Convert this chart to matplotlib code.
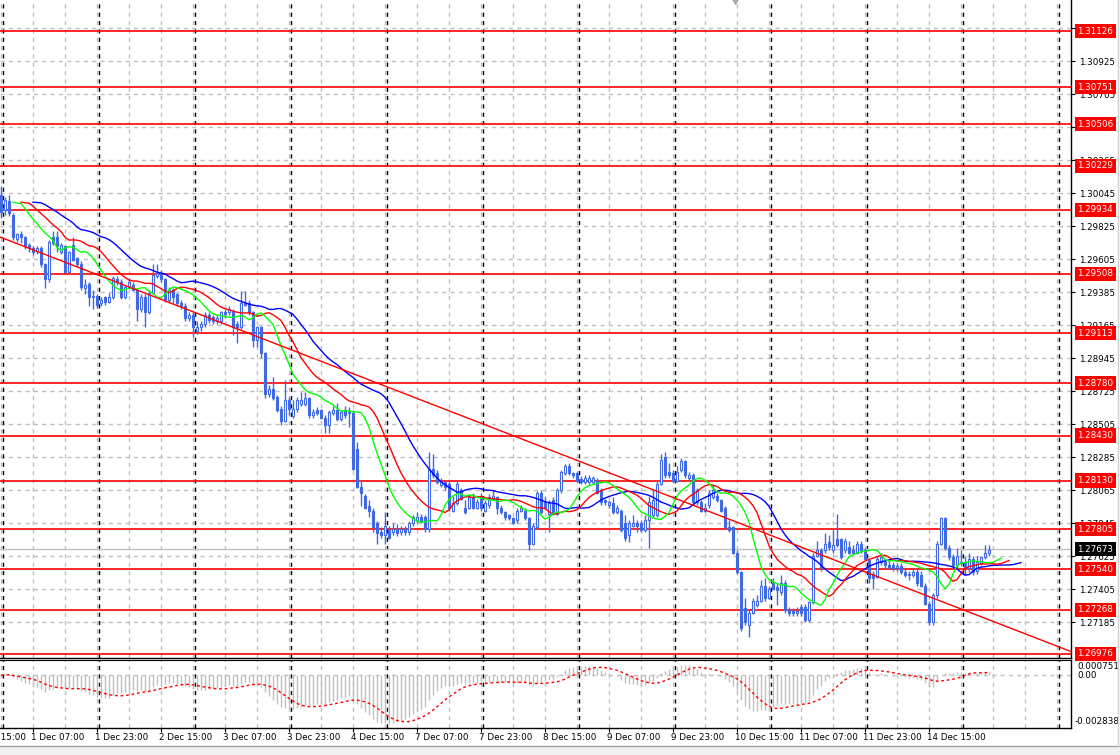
import numpy as np
import pandas as pd
import matplotlib
matplotlib.use("Agg")
import matplotlib.pyplot as plt
from matplotlib.transforms import blended_transform_factory as btf

# ---------------- data ----------------
first_bar = -1   # bar index of first candle (1 Dec 00:00 = bar 0, H1 bars, no weekend bars)

opens = [
    1.3003, 1.2993, 1.2999, 1.2990, 1.2974, 1.2977, 1.2975, 1.2970, 1.2968, 1.2966, 1.2968, 1.2957,
    1.2947, 1.2975, 1.2975, 1.2965, 1.2969, 1.2952, 1.2970, 1.2961, 1.2957, 1.2941, 1.2944, 1.2935,
    1.2936, 1.2931, 1.2935, 1.2932, 1.2935, 1.2947, 1.2945, 1.2935, 1.2942, 1.2943, 1.2940, 1.2927,
    1.2935, 1.2925, 1.2938, 1.2949, 1.2951, 1.2947, 1.2933, 1.2940, 1.2937, 1.2931, 1.2929, 1.2921,
    1.2923, 1.2913, 1.2915, 1.2917, 1.2923, 1.2922, 1.2919, 1.2919, 1.2925, 1.2925, 1.2925, 1.2917,
    1.2915, 1.2931, 1.2931, 1.2925, 1.2907, 1.2915, 1.2898, 1.2871, 1.2874, 1.2869, 1.2861, 1.2853,
    1.2867, 1.2856, 1.2861, 1.2864, 1.2864, 1.2868, 1.2857, 1.2860, 1.2860, 1.2855, 1.2850, 1.2858,
    1.2860, 1.2854, 1.2860, 1.2858, 1.2858, 1.2834, 1.2809, 1.2803, 1.2796, 1.2793, 1.2785, 1.2779,
    1.2777, 1.2780, 1.2779, 1.2781, 1.2779, 1.2781, 1.2779, 1.2785, 1.2787, 1.2789, 1.2789, 1.2781,
    1.2821, 1.2818, 1.2810, 1.2812, 1.2811, 1.2793, 1.2798, 1.2807, 1.2795, 1.2795, 1.2802, 1.2795,
    1.2803, 1.2793, 1.2797, 1.2801, 1.2802, 1.2795, 1.2792, 1.2790, 1.2788, 1.2787, 1.2793, 1.2793,
    1.2788, 1.2771, 1.2782, 1.2805, 1.2799, 1.2791, 1.2800, 1.2791, 1.2807, 1.2818, 1.2823, 1.2818,
    1.2818, 1.2814, 1.2812, 1.2812, 1.2812, 1.2813, 1.2807, 1.2800, 1.2797, 1.2798, 1.2792, 1.2793,
    1.2785, 1.2777, 1.2783, 1.2785, 1.2785, 1.2780, 1.2787, 1.2790, 1.2790, 1.2811, 1.2829, 1.2819,
    1.2818, 1.2813, 1.2820, 1.2826, 1.2815, 1.2817, 1.2799, 1.2799, 1.2793, 1.2797, 1.2802, 1.2803,
    1.2800, 1.2795, 1.2782, 1.2782, 1.2765, 1.2752, 1.2728, 1.2717, 1.2725, 1.2730, 1.2733, 1.2743,
    1.2735, 1.2745, 1.2742, 1.2739, 1.2745, 1.2727, 1.2726, 1.2725, 1.2729, 1.2729, 1.2720, 1.2732,
    1.2763, 1.2767, 1.2767, 1.2772, 1.2767, 1.2774, 1.2774, 1.2767, 1.2769, 1.2767, 1.2765, 1.2771,
    1.2767, 1.2760, 1.2751, 1.2749, 1.2759, 1.2759, 1.2757, 1.2757, 1.2755, 1.2756, 1.2752, 1.2751,
    1.2750, 1.2752, 1.2750, 1.2743, 1.2731, 1.2719, 1.2737, 1.2771, 1.2788, 1.2768, 1.2762, 1.2757,
    1.2758, 1.2759, 1.2755, 1.2761, 1.2753, 1.2758, 1.2762, 1.2765,
]
highs = [
    1.3009, 1.3002, 1.3003, 1.2991, 1.2978, 1.2979, 1.2976, 1.2971, 1.2969, 1.2969, 1.2969, 1.2958,
    1.2973, 1.2979, 1.2979, 1.2971, 1.2970, 1.2966, 1.2975, 1.2962, 1.2959, 1.2947, 1.2945, 1.2940,
    1.2937, 1.2935, 1.2936, 1.2938, 1.2949, 1.2949, 1.2947, 1.2943, 1.2948, 1.2945, 1.2941, 1.2937,
    1.2937, 1.2940, 1.2957, 1.2957, 1.2953, 1.2948, 1.2942, 1.2941, 1.2938, 1.2933, 1.2931, 1.2925,
    1.2925, 1.2919, 1.2919, 1.2925, 1.2925, 1.2923, 1.2923, 1.2926, 1.2927, 1.2929, 1.2927, 1.2919,
    1.2939, 1.2939, 1.2933, 1.2926, 1.2916, 1.2916, 1.2899, 1.2877, 1.2882, 1.2870, 1.2863, 1.2880,
    1.2869, 1.2867, 1.2869, 1.2872, 1.2872, 1.2869, 1.2861, 1.2862, 1.2861, 1.2857, 1.2860, 1.2863,
    1.2865, 1.2860, 1.2863, 1.2862, 1.2860, 1.2839, 1.2813, 1.2804, 1.2800, 1.2795, 1.2786, 1.2782,
    1.2792, 1.2783, 1.2785, 1.2784, 1.2783, 1.2783, 1.2786, 1.2790, 1.2792, 1.2791, 1.2790, 1.2832,
    1.2831, 1.2820, 1.2815, 1.2813, 1.2813, 1.2803, 1.2813, 1.2808, 1.2800, 1.2804, 1.2805, 1.2801,
    1.2805, 1.2800, 1.2804, 1.2807, 1.2803, 1.2797, 1.2793, 1.2791, 1.2789, 1.2795, 1.2797, 1.2795,
    1.2789, 1.2785, 1.2806, 1.2807, 1.2802, 1.2800, 1.2802, 1.2808, 1.2820, 1.2824, 1.2825, 1.2819,
    1.2819, 1.2816, 1.2817, 1.2817, 1.2816, 1.2815, 1.2808, 1.2801, 1.2800, 1.2802, 1.2797, 1.2794,
    1.2790, 1.2787, 1.2790, 1.2787, 1.2787, 1.2790, 1.2803, 1.2807, 1.2813, 1.2831, 1.2832, 1.2825,
    1.2820, 1.2823, 1.2828, 1.2827, 1.2819, 1.2818, 1.2808, 1.2800, 1.2798, 1.2807, 1.2810, 1.2805,
    1.2801, 1.2796, 1.2787, 1.2783, 1.2767, 1.2753, 1.2735, 1.2727, 1.2735, 1.2737, 1.2747, 1.2748,
    1.2743, 1.2748, 1.2745, 1.2750, 1.2747, 1.2729, 1.2728, 1.2729, 1.2731, 1.2731, 1.2733, 1.2765,
    1.2773, 1.2768, 1.2778, 1.2777, 1.2780, 1.2791, 1.2775, 1.2775, 1.2773, 1.2770, 1.2773, 1.2773,
    1.2768, 1.2761, 1.2753, 1.2763, 1.2765, 1.2761, 1.2760, 1.2759, 1.2758, 1.2758, 1.2754, 1.2753,
    1.2755, 1.2755, 1.2753, 1.2745, 1.2733, 1.2738, 1.2773, 1.2789, 1.2789, 1.2770, 1.2764, 1.2768,
    1.2767, 1.2763, 1.2765, 1.2763, 1.2763, 1.2763, 1.2770, 1.2770,
]
lows = [
    1.2988, 1.2990, 1.2989, 1.2973, 1.2972, 1.2971, 1.2967, 1.2965, 1.2963, 1.2964, 1.2955, 1.2941,
    1.2945, 1.2970, 1.2965, 1.2964, 1.2951, 1.2951, 1.2959, 1.2955, 1.2940, 1.2937, 1.2929, 1.2927,
    1.2928, 1.2929, 1.2930, 1.2931, 1.2934, 1.2943, 1.2934, 1.2934, 1.2941, 1.2939, 1.2919, 1.2925,
    1.2915, 1.2924, 1.2937, 1.2948, 1.2945, 1.2932, 1.2931, 1.2931, 1.2929, 1.2927, 1.2919, 1.2919,
    1.2909, 1.2911, 1.2913, 1.2915, 1.2918, 1.2917, 1.2917, 1.2917, 1.2921, 1.2923, 1.2910, 1.2905,
    1.2914, 1.2929, 1.2923, 1.2902, 1.2902, 1.2895, 1.2868, 1.2869, 1.2867, 1.2859, 1.2850, 1.2852,
    1.2857, 1.2855, 1.2859, 1.2863, 1.2863, 1.2855, 1.2855, 1.2857, 1.2854, 1.2845, 1.2845, 1.2857,
    1.2853, 1.2853, 1.2855, 1.2849, 1.2820, 1.2808, 1.2796, 1.2794, 1.2789, 1.2779, 1.2771, 1.2775,
    1.2771, 1.2774, 1.2777, 1.2776, 1.2777, 1.2777, 1.2777, 1.2783, 1.2785, 1.2785, 1.2779, 1.2779,
    1.2815, 1.2811, 1.2809, 1.2807, 1.2793, 1.2792, 1.2797, 1.2800, 1.2791, 1.2794, 1.2794, 1.2794,
    1.2793, 1.2792, 1.2795, 1.2800, 1.2791, 1.2791, 1.2787, 1.2787, 1.2784, 1.2785, 1.2792, 1.2787,
    1.2767, 1.2770, 1.2781, 1.2791, 1.2794, 1.2779, 1.2790, 1.2790, 1.2805, 1.2817, 1.2817, 1.2815,
    1.2812, 1.2811, 1.2811, 1.2811, 1.2811, 1.2804, 1.2797, 1.2797, 1.2795, 1.2791, 1.2791, 1.2779,
    1.2773, 1.2772, 1.2782, 1.2779, 1.2779, 1.2779, 1.2768, 1.2789, 1.2789, 1.2810, 1.2815, 1.2815,
    1.2812, 1.2812, 1.2819, 1.2815, 1.2813, 1.2797, 1.2797, 1.2792, 1.2792, 1.2795, 1.2801, 1.2799,
    1.2792, 1.2781, 1.2779, 1.2764, 1.2751, 1.2713, 1.2717, 1.2709, 1.2724, 1.2729, 1.2732, 1.2733,
    1.2734, 1.2740, 1.2730, 1.2737, 1.2725, 1.2723, 1.2723, 1.2723, 1.2723, 1.2719, 1.2719, 1.2731,
    1.2762, 1.2753, 1.2765, 1.2767, 1.2765, 1.2769, 1.2761, 1.2765, 1.2764, 1.2764, 1.2764, 1.2765,
    1.2760, 1.2745, 1.2741, 1.2748, 1.2757, 1.2755, 1.2754, 1.2753, 1.2753, 1.2751, 1.2749, 1.2747,
    1.2749, 1.2743, 1.2742, 1.2730, 1.2717, 1.2717, 1.2735, 1.2770, 1.2767, 1.2760, 1.2755, 1.2755,
    1.2757, 1.2750, 1.2752, 1.2750, 1.2751, 1.2757, 1.2761, 1.2763,
]
closes = [
    1.2992, 1.3000, 1.2991, 1.2975, 1.2977, 1.2975, 1.2969, 1.2968, 1.2965, 1.2968, 1.2957, 1.2947,
    1.2972, 1.2971, 1.2969, 1.2970, 1.2952, 1.2965, 1.2960, 1.2957, 1.2942, 1.2943, 1.2935, 1.2936,
    1.2930, 1.2933, 1.2932, 1.2935, 1.2948, 1.2945, 1.2935, 1.2942, 1.2945, 1.2940, 1.2927, 1.2935,
    1.2925, 1.2938, 1.2950, 1.2951, 1.2947, 1.2933, 1.2940, 1.2935, 1.2931, 1.2929, 1.2921, 1.2923,
    1.2915, 1.2915, 1.2917, 1.2923, 1.2920, 1.2919, 1.2921, 1.2925, 1.2924, 1.2927, 1.2915, 1.2915,
    1.2931, 1.2930, 1.2925, 1.2907, 1.2915, 1.2898, 1.2871, 1.2874, 1.2868, 1.2860, 1.2853, 1.2867,
    1.2861, 1.2861, 1.2867, 1.2867, 1.2868, 1.2857, 1.2859, 1.2858, 1.2855, 1.2850, 1.2859, 1.2860,
    1.2854, 1.2859, 1.2857, 1.2859, 1.2821, 1.2809, 1.2805, 1.2795, 1.2793, 1.2782, 1.2778, 1.2777,
    1.2783, 1.2775, 1.2781, 1.2778, 1.2781, 1.2779, 1.2785, 1.2789, 1.2789, 1.2786, 1.2781, 1.2821,
    1.2817, 1.2812, 1.2812, 1.2809, 1.2795, 1.2798, 1.2811, 1.2801, 1.2792, 1.2802, 1.2795, 1.2799,
    1.2795, 1.2798, 1.2802, 1.2803, 1.2795, 1.2792, 1.2789, 1.2788, 1.2785, 1.2793, 1.2795, 1.2788,
    1.2771, 1.2783, 1.2805, 1.2792, 1.2795, 1.2798, 1.2791, 1.2807, 1.2819, 1.2823, 1.2818, 1.2817,
    1.2813, 1.2812, 1.2815, 1.2815, 1.2815, 1.2805, 1.2799, 1.2799, 1.2799, 1.2792, 1.2795, 1.2780,
    1.2775, 1.2785, 1.2785, 1.2783, 1.2780, 1.2787, 1.2799, 1.2800, 1.2811, 1.2827, 1.2817, 1.2817,
    1.2813, 1.2819, 1.2826, 1.2817, 1.2817, 1.2799, 1.2807, 1.2793, 1.2795, 1.2805, 1.2807, 1.2800,
    1.2793, 1.2782, 1.2780, 1.2765, 1.2752, 1.2715, 1.2719, 1.2725, 1.2733, 1.2733, 1.2743, 1.2735,
    1.2741, 1.2741, 1.2740, 1.2745, 1.2727, 1.2725, 1.2725, 1.2726, 1.2725, 1.2720, 1.2732, 1.2763,
    1.2767, 1.2755, 1.2771, 1.2769, 1.2770, 1.2770, 1.2762, 1.2773, 1.2765, 1.2765, 1.2771, 1.2767,
    1.2761, 1.2748, 1.2748, 1.2761, 1.2762, 1.2757, 1.2755, 1.2755, 1.2756, 1.2752, 1.2750, 1.2750,
    1.2752, 1.2745, 1.2743, 1.2731, 1.2719, 1.2737, 1.2771, 1.2788, 1.2768, 1.2762, 1.2757, 1.2763,
    1.2759, 1.2755, 1.2761, 1.2752, 1.2759, 1.2762, 1.2765, 1.2767,
]

level_prices = [1.31126, 1.30751, 1.30506, 1.30229, 1.29934, 1.29508, 1.29113,
                1.28780, 1.28430, 1.28130, 1.27805, 1.27540, 1.27268, 1.26976]
last_price = 1.27673
grid_labels = ["1.27185", "1.27405", "1.27625", "1.27845", "1.28065", "1.28285",
               "1.28505", "1.28725", "1.28945", "1.29165", "1.29385", "1.29605",
               "1.29825", "1.30045", "1.30265", "1.30485", "1.30705", "1.30925", "1.31145"]
time_label_bars = [-9, 7, 23, 39, 55, 71, 87, 103, 119, 135, 151, 167, 183, 199, 215, 231]
time_labels = ["30 Nov 15:00", "1 Dec 07:00", "1 Dec 23:00", "2 Dec 15:00", "3 Dec 07:00",
               "3 Dec 23:00", "4 Dec 15:00", "7 Dec 07:00", "7 Dec 23:00", "8 Dec 15:00",
               "9 Dec 07:00", "9 Dec 23:00", "10 Dec 15:00", "11 Dec 07:00", "11 Dec 23:00",
               "14 Dec 15:00"]
day_start_bars = [0, 24, 48, 72, 96, 120, 144, 168, 192, 216, 240, 264]
trend_bars = [-1.25, 266.5]
trend_prices = [1.29753, 1.26990]
macd_top = 0.000751
macd_bottom = -0.002838
price_top, price_bottom = 1.31333, 1.26947

# ---------------- figure ----------------
W, H = 1120, 755
fig = plt.figure(figsize=(W / 100, H / 100), dpi=100)
fig.patch.set_facecolor("white")
FS = 6.3


def rect(x0, y0, x1, y1):
    return [x0 / W, 1 - y1 / H, (x1 - x0) / W, (y1 - y0) / H]


ax = fig.add_axes(rect(0, 0, 1071, 658))
axm = fig.add_axes(rect(0, 660, 1071, 728), sharex=ax)

o = np.array(opens); h = np.array(highs); l = np.array(lows); c = np.array(closes)
bars = np.arange(first_bar, first_bar + len(c))
blue = "#4169E1"
grid_col = "#C0C0C0"
dash = (0, (3, 3))
xmin, xmax = -1.25, 266.5

for a in (ax, axm):
    for s in ("left", "top"):
        a.spines[s].set_visible(False)
    for s in ("right", "bottom"):
        a.spines[s].set_color("black")
        a.spines[s].set_linewidth(1)
axm.spines["top"].set_visible(True)
axm.spines["top"].set_color("black")

# grid
for lab in grid_labels:
    ax.axhline(float(lab), color=grid_col, lw=1, ls=dash, zorder=1)
for b in range(-1, 267, 8):
    for a in (ax, axm):
        a.axvline(b, color=grid_col, lw=1, ls=dash, zorder=1)
for d in day_start_bars:
    for a in (ax, axm):
        a.axvline(d - 0.5, color="black", lw=1, ls=dash, zorder=1.5)

# levels
for p in level_prices:
    ax.axhline(p, color="red", lw=1.2, zorder=2)
ax.axhline(last_price, color="#C0C0C0", lw=1, zorder=2)

# candles
body_lo = np.minimum(o, c)
body_hi = np.maximum(o, c)
up = c >= o
ax.vlines(bars, np.minimum(l, body_lo), np.maximum(h, body_hi), color=blue, lw=1, zorder=3)
ax.bar(bars, np.maximum(body_hi - body_lo, 0.00001), bottom=body_lo, width=0.72,
       color=np.where(up, "white", blue), edgecolor=blue, linewidth=0.8, zorder=4)

# Alligator (SMMA of median price, shifted)
med = pd.Series((h + l) / 2)
for n, shift, col in ((13, 8, "#0000FF"), (8, 5, "#FF0000"), (5, 3, "#00FF00")):
    sm = med.ewm(alpha=1 / n, adjust=False).mean().values
    ax.plot(bars + shift, sm, color=col, lw=1, zorder=5)

# trend line
ax.plot(trend_bars, trend_prices, color="red", lw=1, zorder=5)

# MACD
cs = pd.Series(c)
macd = (cs.ewm(span=12, adjust=False).mean() - cs.ewm(span=26, adjust=False).mean()).values
signal = pd.Series(macd).rolling(9, min_periods=1).mean().values
axm.axhline(0, color=grid_col, lw=1, ls=dash, zorder=1)
axm.vlines(bars, 0, macd, color="#C0C0C0", lw=1, zorder=2)
axm.plot(bars, signal, color="red", lw=1, ls=(0, (2, 2)), zorder=3)

# limits (after all plotting)
ax.set_xlim(xmin, xmax)
axm.set_xlim(xmin, xmax)
ax.set_ylim(price_bottom, price_top)
pad = (macd_top - macd_bottom) * 2 / 64
axm.set_ylim(macd_bottom - pad, macd_top + pad)

# y labels main
ax.yaxis.tick_right()
ax.set_yticks([float(v) for v in grid_labels])
ax.set_yticklabels(grid_labels)
ax.tick_params(axis="y", length=3, width=0.8, pad=3, labelsize=FS, colors="black")
ax.tick_params(axis="x", bottom=False, labelbottom=False)
tr = btf(ax.transAxes, ax.transData)
for p in level_prices:
    ax.text(1.0058, p, f"{p:.5f}", transform=tr, ha="left", va="center", fontsize=FS,
            color="white", clip_on=False, zorder=10,
            bbox=dict(boxstyle="square,pad=0.3", fc="#FF0000", ec="none"))
ax.text(1.0058, last_price, f"{last_price:.5f}", transform=tr, ha="left", va="center",
        fontsize=FS, color="white", clip_on=False, zorder=11,
        bbox=dict(boxstyle="square,pad=0.3", fc="black", ec="none"))

# indicator labels
axm.set_yticks([])
axm.tick_params(axis="y", right=False, left=False)
trm = btf(axm.transAxes, axm.transData)
axm.text(1.0058, macd_top, "0.000751", transform=trm, ha="left", va="top", fontsize=FS, clip_on=False)
axm.text(1.0058, 0, "0.00", transform=trm, ha="left", va="center", fontsize=FS, clip_on=False)
axm.text(1.0035, macd_bottom, "-0.002838", transform=trm, ha="left", va="bottom", fontsize=FS, clip_on=False)

# x labels
axm.set_xticks(time_label_bars)
axm.set_xticklabels([])
axm.tick_params(axis="x", length=3, width=0.8, direction="out")
axm.set_xlim(xmin, xmax)
trx = btf(axm.transData, axm.transAxes)
for b, t in zip(time_label_bars, time_labels):
    axm.text(b - 0.4, -0.145, t, transform=trx, ha="left", va="center", fontsize=FS, clip_on=False)

# chart shift marker
ax.plot([(735 - 5) / 4], [1.0], marker="v", color="#A8A8A8", markersize=6,
        transform=btf(ax.transData, ax.transAxes), clip_on=False, zorder=12)
ax.set_xlim(xmin, xmax)

# bottom strip / right border
fig.patches.append(plt.Rectangle((0, 0), 1, 9 / H, transform=fig.transFigure,
                                 facecolor="#F0F0F0", edgecolor="none", zorder=0))
fig.add_artist(plt.Line2D([0, 1], [9.5 / H, 9.5 / H], transform=fig.transFigure, color="#A0A0A0", lw=1))
fig.add_artist(plt.Line2D([1117.5 / W, 1117.5 / W], [9.5 / H, 1], transform=fig.transFigure, color="#D0D0D0", lw=1))

fig.savefig("out.png", dpi=100, facecolor="white")
